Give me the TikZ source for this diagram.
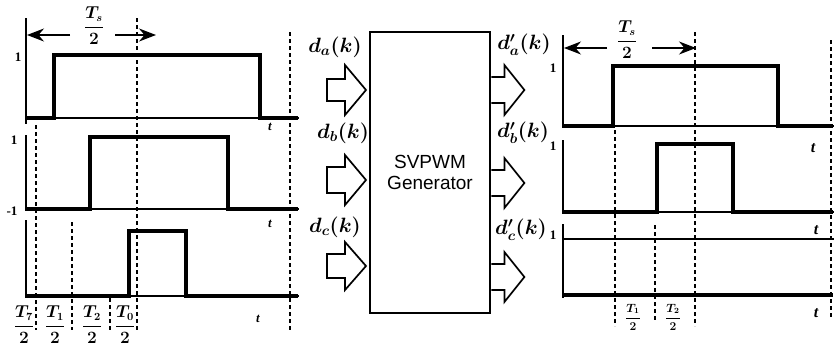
\documentclass[tikz,border=0pt]{standalone}
\usepackage{fontspec}
\setmainfont{Liberation Serif}
\newfontfamily\arialf{Liberation Sans}
\usetikzlibrary{arrows.meta}
\begin{document}
\begin{tikzpicture}[x=1pt,y=-1pt,
 wave/.style={line width=3.2pt, line join=miter},
 axisln/.style={line width=2.2pt},
 dashln/.style={line width=1.8pt, dash pattern=on 4pt off 3pt},
 thinln/.style={line width=1.5pt},
 lbl/.style={font=\fontsize{13}{13}\selectfont\bfseries, inner sep=0},
 tlbl/.style={font=\fontsize{13}{13}\selectfont\itshape\bfseries, inner sep=0},
 bigfrac/.style={font=\fontsize{16}{16}\selectfont\boldmath, inner sep=0},
 smallfrac/.style={font=\fontsize{12}{12}\selectfont\boldmath, inner sep=0},
 dlbl/.style={font=\fontsize{21}{21}\selectfont\boldmath, inner sep=0},
 harrow/.style={line width=1.7pt, line join=miter},
 dimarrow/.style={line width=1.2pt, -{Stealth[length=17pt,width=13pt]}}
]
\useasboundingbox (0,0) rectangle (836,351);

% ================= LEFT PANEL =================
\draw[axisln] (26,18) -- (26,124);
\draw[axisln] (26,135) -- (26,211);
\draw[axisln] (26,220) -- (26,298);
\draw[thinln] (26,118) -- (299,118);
\draw[thinln] (26,209) -- (299,209);
\draw[thinln] (26,296) -- (299,296);
\draw[wave] (26,118) -- (54,118) -- (54,55) -- (260,55) -- (260,118) -- (298,118);
\draw[wave] (26,209) -- (90,209) -- (90,137) -- (228,137) -- (228,209) -- (298,209);
\draw[wave] (26,296) -- (129,296) -- (129,231) -- (186,231) -- (186,296) -- (298,296);
\draw[dashln] (137,18) -- (137,330);
\draw[dashln] (290,32) -- (290,330);
\draw[dashln] (36,125) -- (36,330);
\draw[dashln] (72,222) -- (72,330);
\draw[dashln] (110,298) -- (110,330);
\node[bigfrac] (lts) at (94,26) {$\displaystyle\frac{T_s}{2}$};
\coordinate (lta) at (70,35);
\coordinate (ltb) at (27,35);
\coordinate (ltc) at (115,35);
\coordinate (ltd) at (156,35);
\draw[dimarrow] (lta) -- (ltb);
\draw[dimarrow] (ltc) -- (ltd);
\node[lbl] (l1a) at (18,57) {1};
\node[lbl] (l1b) at (14,140) {1};
\node[lbl] (l1c) at (12,211) {-1};
\node[tlbl] (lt1) at (270,127) {t};
\node[tlbl] (lt2) at (270,224) {t};
\node[tlbl] (lt3) at (258,319) {t};
\node[bigfrac] (f7) at (24,325) {$\displaystyle\frac{T_7}{2}$};
\node[bigfrac] (f1) at (55,325) {$\displaystyle\frac{T_1}{2}$};
\node[bigfrac] (f2) at (92,325) {$\displaystyle\frac{T_2}{2}$};
\node[bigfrac] (f0) at (125,325) {$\displaystyle\frac{T_0}{2}$};

% ================= GENERATOR =================
\node[draw, line width=2.8pt, minimum width=120pt, minimum height=281pt,
      inner sep=0, align=center, font=\arialf\fontsize{19}{21}\selectfont]
      (gen) at (430,172.5) {SVPWM\\Generator};
\coordinate (in1) at (327,90);
\coordinate (in2) at (327,180);
\coordinate (in3) at (327,266);
\draw[harrow] (in1) ++(0,-11) -- ++(18,0) -- ++(0,-14) -- ++(21,25) -- ++(-21,25) -- ++(0,-14) -- ++(-18,0) -- cycle;
\draw[harrow] (in2) ++(0,-13) -- ++(18,0) -- ++(0,-12) -- ++(21,25) -- ++(-21,25) -- ++(0,-12) -- ++(-18,0) -- cycle;
\draw[harrow] (in3) ++(0,-12) -- ++(18,0) -- ++(0,-12) -- ++(21,24) -- ++(-21,24) -- ++(0,-12) -- ++(-18,0) -- cycle;
\coordinate (out1) at (gen.east |- 0,90);
\coordinate (out2) at (gen.east |- 0,183);
\coordinate (out3) at (gen.east |- 0,277);
\draw[harrow] (out1) ++(0,-13) -- ++(13,0) -- ++(0,-12) -- ++(20,25) -- ++(-20,25) -- ++(0,-12) -- ++(-13,0);
\draw[harrow] (out2) ++(0,-13) -- ++(13,0) -- ++(0,-12) -- ++(20,25) -- ++(-20,25) -- ++(0,-12) -- ++(-13,0);
\draw[harrow] (out3) ++(0,-13) -- ++(13,0) -- ++(0,-12) -- ++(20,25) -- ++(-20,25) -- ++(0,-12) -- ++(-13,0);
\node[dlbl] (da) at (335,47) {$d_a(k)$};
\node[dlbl] (db) at (343,133) {$d_b(k)$};
\node[dlbl] (dc) at (335,227) {$d_c(k)$};
\node[dlbl] (oda) at (524,45) {$d'_a(k)$};
\node[dlbl] (odb) at (523,133) {$d'_b(k)$};
\node[dlbl] (odc) at (521,230) {$d'_c(k)$};

% ================= RIGHT PANEL =================
\draw[axisln] (563,35) -- (563,128);
\draw[axisln] (563,140) -- (563,214);
\draw[axisln] (563,224) -- (563,298);
\draw[thinln] (563,126) -- (834,126);
\draw[thinln] (563,212) -- (834,212);
\draw[thinln] (563,239) -- (834,239);
\draw[wave] (563,126) -- (613,126) -- (613,66) -- (778,66) -- (778,126) -- (833,126);
\draw[wave] (563,212) -- (657,212) -- (657,144) -- (733,144) -- (733,212) -- (833,212);
\draw[wave] (563,295) -- (833,295);
\draw[dashln] (615,130) -- (615,326);
\draw[dashln] (655,225) -- (655,320);
\draw[dashln] (695,32) -- (695,326);
\draw[dashln] (831,40) -- (831,318);
\node[bigfrac] (rts) at (627,40) {$\displaystyle\frac{T_s}{2}$};
\coordinate (rta) at (607,48);
\coordinate (rtb) at (564,48);
\coordinate (rtc) at (652,48);
\coordinate (rtd) at (696,48);
\draw[dimarrow] (rta) -- (rtb);
\draw[dimarrow] (rtc) -- (rtd);
\node[lbl] (r1a) at (553,68) {1};
\node[lbl] (r1b) at (553,146) {1};
\node[lbl] (r1c) at (553,235) {1};
\node[tlbl, font=\fontsize{16}{16}\selectfont\itshape\bfseries] (rt1) at (813,148) {t};
\node[tlbl, font=\fontsize{16}{16}\selectfont\itshape\bfseries] (rt2) at (816,230) {t};
\node[tlbl, font=\fontsize{16}{16}\selectfont\itshape\bfseries] (rt3) at (816,313) {t};
\node[smallfrac] (rf1) at (633,317) {$\displaystyle\frac{T_1}{2}$};
\node[smallfrac] (rf2) at (673,317) {$\displaystyle\frac{T_2}{2}$};
\end{tikzpicture}
\end{document}
